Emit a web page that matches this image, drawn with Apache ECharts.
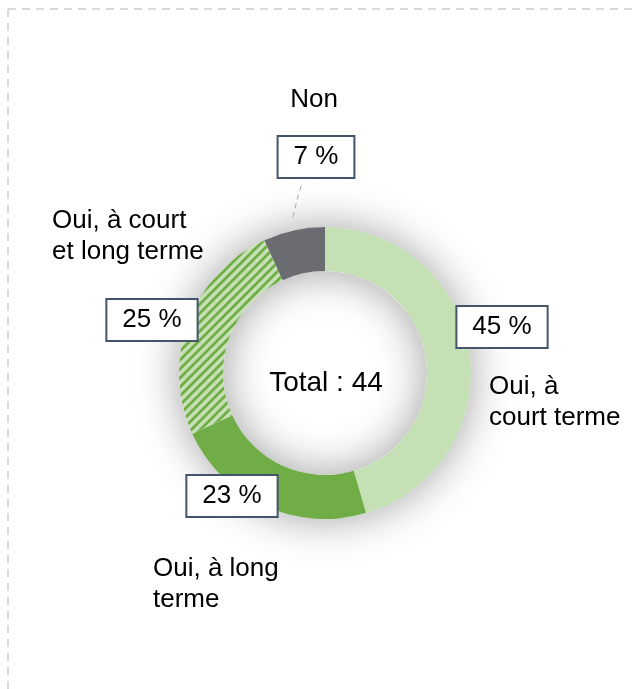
<!DOCTYPE html>
<html>
<head>
<meta charset="utf-8">
<script src="https://cdn.jsdelivr.net/npm/echarts@6/dist/echarts.min.js"></script>
<style>
  html, body { margin: 0; padding: 0; background: #fff; }
  #chart { width: 636px; height: 689px; }
</style>
</head>
<body>
<div id="chart"></div>
<script>
// categories (clockwise from the top) and number of answers
const categories = ['Oui, à\ncourt terme', 'Oui, à long\nterme', 'Oui, à court\net long terme', 'Non'];
const counts = [20, 10, 11, 3];

const colors = ['#c5e0b4', '#70ad47', null, '#6b6c71'];
// label placement: [x, y, align]
const boxPos = [[502, 327], [232, 496], [152, 320], [316, 157]];
const namePos = [[489, 402, 'left'], [153, 584, 'left'], [52, 236, 'left'], [314, 100, 'center']];

function hatch () {
  const s = 9;
  const c = document.createElement('canvas');
  c.width = s;
  c.height = s;
  const g = c.getContext('2d');
  g.fillStyle = '#c5e0b4';
  g.fillRect(0, 0, s, s);
  g.strokeStyle = '#70ad47';
  g.lineWidth = 2.8;
  g.beginPath();
  g.moveTo(-2, s + 2); g.lineTo(s + 2, -2);
  g.moveTo(-2, 2); g.lineTo(2, -2);
  g.moveTo(s - 2, s + 2); g.lineTo(s + 2, s - 2);
  g.stroke();
  return c;
}

const total = counts.reduce((a, b) => a + b, 0);
const font = '"Liberation Sans", Arial, sans-serif';
const center = ['325px', '373px'];
const radius = [102, 146];

const sliceData = counts.map((v, i) => ({
  value: v,
  name: categories[i],
  itemStyle: { color: colors[i] || { image: hatch(), repeat: 'repeat' } },
  labelLine: { show: i === 3 }
}));

const chart = echarts.init(document.getElementById('chart'), null, { renderer: 'canvas' });
chart.setOption({
  animation: false,
  backgroundColor: '#fff',
  graphic: [
    { type: 'line', shape: { x1: 8, y1: 9, x2: 636, y2: 9 }, style: { stroke: '#d9d9d9', lineWidth: 2, lineDash: [8, 6] } },
    { type: 'line', shape: { x1: 8, y1: 9, x2: 8, y2: 689 }, style: { stroke: '#d9d9d9', lineWidth: 2, lineDash: [8, 6] } },
    {
      type: 'text', z: 10,
      style: { x: 326, y: 383, text: 'Total : ' + total, align: 'center', verticalAlign: 'middle', fontSize: 28, fontFamily: font, fill: '#000' }
    }
  ],
  series: [
    {
      // soft shadow behind the ring
      type: 'pie', silent: true, z: 1,
      center: center, radius: radius,
      label: { show: false }, labelLine: { show: false },
      itemStyle: { color: '#fff', shadowBlur: 44, shadowColor: 'rgba(0,0,0,0.38)' },
      data: [total]
    },
    {
      type: 'pie', z: 2,
      center: center, radius: radius,
      startAngle: 90,
      avoidLabelOverlap: false,
      itemStyle: { borderWidth: 0 },
      label: {
        show: true,
        formatter: p => Math.round(p.percent) + ' %',
        fontSize: 26, fontFamily: font, color: '#000',
        backgroundColor: '#fff', borderColor: '#44546a', borderWidth: 2,
        padding: [7, 15]
      },
      labelLine: { lineStyle: { color: '#a6a6a6', width: 1, type: [5, 4] } },
      labelLayout: p => {
        const r = { x: boxPos[p.dataIndex][0], y: boxPos[p.dataIndex][1], align: 'center', verticalAlign: 'middle' };
        if (p.dataIndex === 3) r.labelLinePoints = [[293, 217], [297, 200], [302, 183]];
        return r;
      },
      data: sliceData
    },
    {
      // category names
      type: 'pie', silent: true, z: 3,
      center: center, radius: radius,
      startAngle: 90,
      avoidLabelOverlap: false,
      itemStyle: { color: 'transparent' },
      label: { show: true, formatter: '{b}', fontSize: 26, lineHeight: 31, fontFamily: font, color: '#000' },
      labelLine: { show: false },
      labelLayout: p => ({ x: namePos[p.dataIndex][0], y: namePos[p.dataIndex][1], align: namePos[p.dataIndex][2], verticalAlign: 'middle' }),
      data: counts.map((v, i) => ({ value: v, name: categories[i] }))
    }
  ]
});
</script>
</body>
</html>
